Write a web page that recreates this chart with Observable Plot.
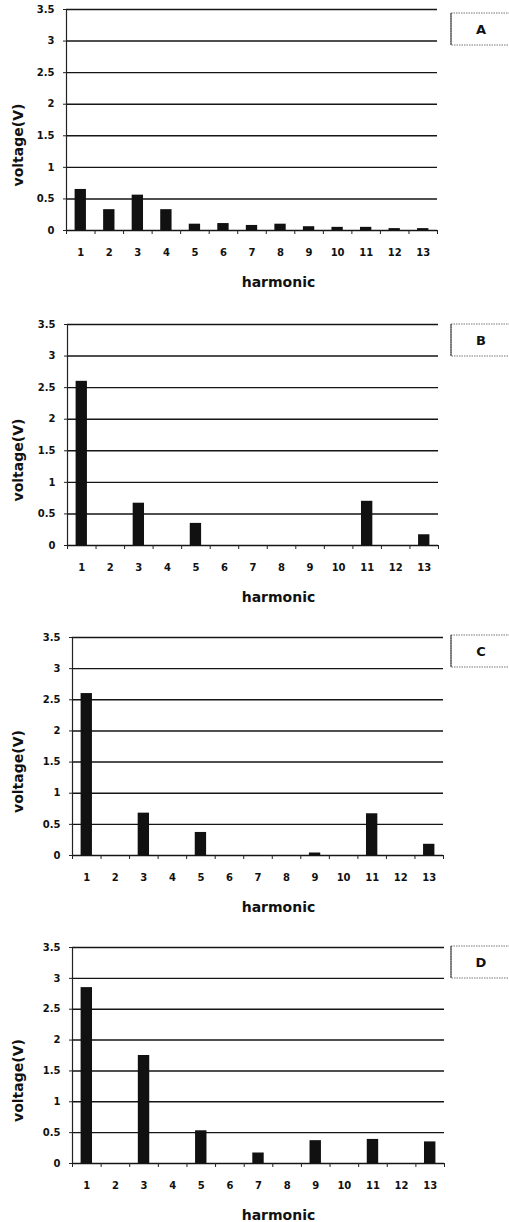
<!DOCTYPE html>
<html>
<head>
<meta charset="utf-8">
<script src="https://cdn.jsdelivr.net/npm/d3@7"></script>
<script src="https://cdn.jsdelivr.net/npm/@observablehq/plot@0.6"></script>
<style>
  html, body { margin: 0; padding: 0; background: #fff; overflow: hidden; }
  #charts svg { display: block; overflow: hidden; }
</style>
</head>
<body>
<div id="charts"></div>
<script>
// ---- data ----
const harmonics = [1, 2, 3, 4, 5, 6, 7, 8, 9, 10, 11, 12, 13];
const voltageA = [0.65, 0.33, 0.56, 0.33, 0.10, 0.11, 0.08, 0.10, 0.06, 0.05, 0.05, 0.03, 0.03];
const voltageB = [2.60, 0, 0.67, 0, 0.35, 0, 0, 0, 0, 0, 0.70, 0, 0.17];
const voltageC = [2.60, 0, 0.68, 0, 0.37, 0, 0, 0, 0.04, 0, 0.67, 0, 0.18];
const voltageD = [2.85, 0, 1.75, 0, 0.53, 0, 0.17, 0, 0.37, 0, 0.39, 0, 0.35];
const yTicks = [0, 0.5, 1, 1.5, 2, 2.5, 3, 3.5];
const panelLabels = ["A", "B", "C", "D"];
const xTitle = "harmonic";
const yTitle = "voltage(V)";

// ---- layout per panel ----
const panels = [
  {label: panelLabels[0], values: voltageA, height: 310, mt: 9,  mb: 80, ml: 66, mr: 72, boxDy: 4},
  {label: panelLabels[1], values: voltageB, height: 310, mt: 14, mb: 75, ml: 67, mr: 71, boxDy: 0},
  {label: panelLabels[2], values: voltageC, height: 308, mt: 17, mb: 73, ml: 72, mr: 66, boxDy: -2},
  {label: panelLabels[3], values: voltageD, height: 294, mt: 19, mb: 59, ml: 72, mr: 65, boxDy: -1}
];

const W = 509;
const bounds = harmonics.map(h => h - 0.5).concat([harmonics[harmonics.length - 1] + 0.5]);

function labelBox(letter, boxDy) {
  return (index, scales, values, dims) => {
    const g = d3.create("svg:g");
    const x0 = dims.width - 58;
    const y0 = dims.marginTop + boxDy;
    const h = 32;
    g.append("rect")
      .attr("x", x0).attr("y", y0)
      .attr("width", 70).attr("height", h)
      .attr("fill", "white")
      .attr("stroke", "#777")
      .attr("stroke-dasharray", "1.5,1");
    g.append("line")
      .attr("x1", x0).attr("x2", x0)
      .attr("y1", y0).attr("y2", y0 + h)
      .attr("stroke", "#333").attr("stroke-width", 1);
    g.append("text")
      .attr("x", x0 + 30).attr("y", y0 + h / 2)
      .attr("text-anchor", "middle")
      .attr("dominant-baseline", "central")
      .attr("font-family", "DejaVu Sans")
      .attr("font-weight", "bold")
      .attr("font-size", 13)
      .attr("fill", "#111")
      .text(letter);
    return g.node();
  };
}

const container = document.getElementById("charts");

for (const p of panels) {
  const rows = harmonics.map((h, i) => ({h, v: p.values[i]}));
  const frameCenter = p.ml + (W - p.ml - p.mr) / 2;
  const chart = Plot.plot({
    width: W,
    height: p.height,
    marginTop: p.mt,
    marginBottom: p.mb,
    marginLeft: p.ml,
    marginRight: p.mr,
    style: {fontFamily: "DejaVu Sans", fontSize: "10px", fontWeight: "bold", color: "#111", background: "white"},
    x: {domain: [bounds[0], bounds[bounds.length - 1]], label: null},
    y: {domain: [0, 3.5], label: null},
    marks: [
      Plot.ruleY(yTicks, {stroke: "#151515", strokeWidth: 1.4}),
      Plot.ruleX([bounds[0]], {stroke: "#222", strokeWidth: 1.2}),
      Plot.rectY(rows, {x1: d => d.h - 0.5, x2: d => d.h + 0.5, y: "v", insetLeft: 8.6, insetRight: 8.6, fill: "#111"}),
      Plot.axisY({ticks: yTicks, tickSize: 3, tickPadding: 9, tickFormat: d => String(d), stroke: "#222", label: null}),
      Plot.axisX({ticks: bounds, tickSize: 4, tickFormat: () => "", stroke: "#222", label: null}),
      Plot.axisX({ticks: harmonics, tickSize: 0, tickPadding: 18, tickFormat: d => String(d), label: null}),
      Plot.text([xTitle], {text: d => d, frameAnchor: "bottom", lineAnchor: "middle", textAnchor: "middle",
        dy: 52, dx: 278 - frameCenter, fontSize: 14, fontWeight: "bold", fill: "#111"}),
      Plot.text([yTitle], {text: d => d, frameAnchor: "left", lineAnchor: "middle", textAnchor: "middle",
        rotate: -90, dx: 18.5 - p.ml, dy: 25, fontSize: 14, fontWeight: "bold", fill: "#111"}),
      labelBox(p.label, p.boxDy)
    ]
  });
  container.appendChild(chart);
}
</script>
</body>
</html>
